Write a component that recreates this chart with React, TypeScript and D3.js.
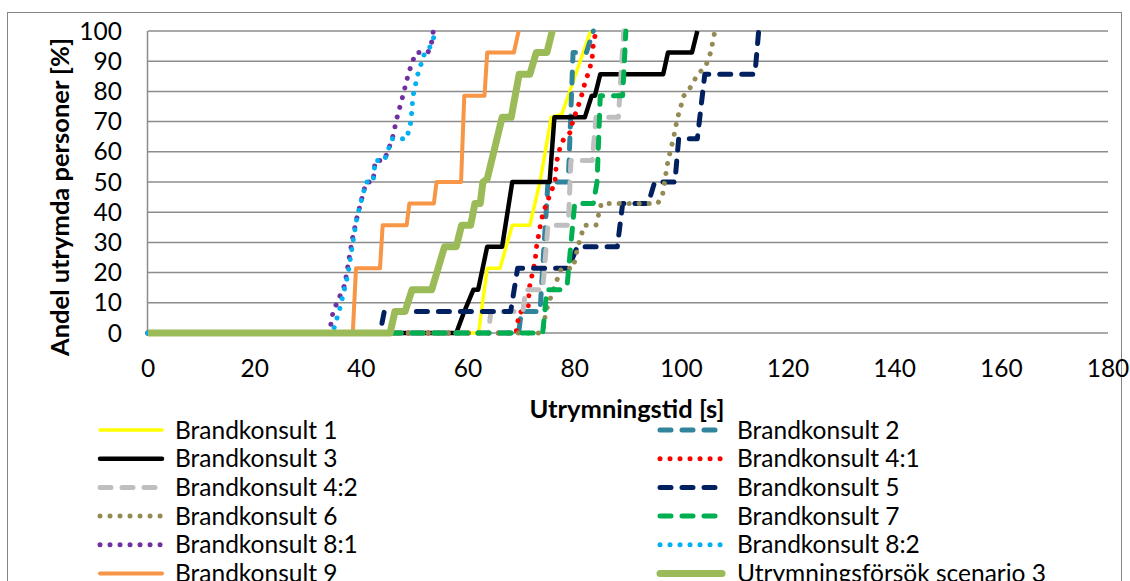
import React from "react";
import * as d3 from "d3";

// ---- data (time [s], share evacuated [%]) ----
const xTicks = [0, 20, 40, 60, 80, 100, 120, 140, 160, 180];
const yTicks = [0, 10, 20, 30, 40, 50, 60, 70, 80, 90, 100];

const bk1 = [[0,0],[62,0],[62.5,7.1],[63.6,21.4],[66,21.4],[68.3,35.7],[71.6,35.7],[73.5,50],[75.6,71.4],[77.6,72.5],[83,100]];
const bk2 = [[0,0],[69.5,0],[70,7.1],[73.5,7.1],[75,50],[78.8,50],[79.7,92.9],[82.2,92.9],[83.5,100]];
const bk3 = [[0,0],[57.8,0],[59.3,7.1],[61,14.3],[61.9,14.3],[63.6,28.6],[66.4,28.6],[68.3,50],[75.3,50],[76.2,71.4],[81.9,71.4],[83.2,78.6],[83.8,78.6],[84.8,85.7],[96.6,85.7],[97.5,92.9],[102,92.9],[103,100]];
const bk41 = [[0,0],[69,0],[69.6,6.6],[71.3,8.6],[71.5,15],[72.6,24],[72.8,28],[73.5,35],[74.1,40],[76.3,50],[76.6,56.6],[77.2,61],[78,64.5],[79.2,66.5],[79.7,70.5],[80.6,74.8],[81.2,78],[81.8,82],[82.9,88],[83.3,91.4],[83.5,95.7],[84,100]];
const bk42 = [[0,0],[63.8,0],[64.3,7.1],[70.3,7.1],[70.8,14.3],[74,14.3],[75,35.7],[78.8,35.7],[79.3,57.1],[83.3,57.1],[84,71.4],[88.2,71.4],[89.2,100]];
const bk5 = [[0,0],[43.5,0],[44.3,7.1],[68,7.1],[69.3,21.4],[78.8,21.4],[80.5,28.6],[88,28.6],[89,42.9],[93.8,42.9],[95,50],[98.8,50],[99.5,64.3],[103,64.3],[104.4,85.7],[113.8,85.7],[114.5,100]];
const bk6 = [[0,0],[74,0],[74.6,7.1],[76,14.3],[77.5,21.4],[79.7,21.4],[80.6,28.6],[81.8,35.7],[84,35.7],[85,42.9],[95.6,42.9],[96.5,46],[97.5,57.1],[98.5,64.3],[99.3,71.4],[100.5,78.6],[102,82],[103,85.7],[104.5,88],[105.5,92.9],[106.3,100]];
const bk7 = [[0,0],[74,0],[74.8,14.3],[77.5,14.3],[78.6,16],[80,42.9],[83.5,42.9],[84.2,50],[84.8,78.6],[89,78.6],[89.6,100]];
const bk81 = [[0,0],[34,0],[34.7,7],[36.9,16],[38.3,31],[39.2,38.4],[40.9,50],[42.2,50],[42.6,57.1],[44.3,57.1],[45.8,64.3],[46.7,71.4],[47.8,78.6],[48.8,85.7],[49.6,90],[50.3,92.9],[52.5,92.9],[53.2,96.4],[53.5,100]];
const bk82 = [[0,0],[34.6,0],[36,8.3],[37.5,19.5],[38.5,31],[39.2,38.4],[40.9,50],[42.2,50],[42.6,57.1],[44.3,57.1],[45.8,64.3],[48.5,64.3],[49.3,70],[49.7,78.6],[50.6,85.7],[51.9,92.9],[52.8,94.5],[53.6,98],[54,100]];
const bk9 = [[0,0],[38.4,0],[39,21.4],[43.5,21.4],[44,35.7],[48.5,35.7],[49,42.9],[53.6,42.9],[54.1,50],[58.7,50],[59.3,78.6],[63.1,78.6],[63.6,92.9],[68.6,92.9],[69.5,100]];
const scen3 = [[0,0],[45.4,0],[46.3,7.1],[48.2,7.1],[49.5,14.3],[53.2,14.3],[55.6,28.6],[57.8,28.6],[58.8,35.7],[60.5,35.7],[61.3,42.9],[62.3,42.9],[62.8,50],[63.6,51],[66.4,71.4],[68.1,71.4],[69.6,85.7],[71.6,85.7],[72.8,92.9],[74.8,92.9],[75.8,100]];

const seriesNames = [
  "Brandkonsult 1", "Brandkonsult 2", "Brandkonsult 3", "Brandkonsult 4:1",
  "Brandkonsult 4:2", "Brandkonsult 5", "Brandkonsult 6", "Brandkonsult 7",
  "Brandkonsult 8:1", "Brandkonsult 8:2", "Brandkonsult 9", "Utrymningsförsök scenario 3",
];
const seriesData = [bk1, bk2, bk3, bk41, bk42, bk5, bk6, bk7, bk81, bk82, bk9, scen3];

type Sty = { color: string; width: number; dash: string };
const DOT = "0.01 10";
const DASH = "11 11";
const styles: Sty[] = [
  { color: "#FFFF00", width: 3.5, dash: "" },
  { color: "#31849B", width: 5, dash: DASH },
  { color: "#000000", width: 4.5, dash: "" },
  { color: "#FF0000", width: 5, dash: DOT },
  { color: "#BFBFBF", width: 5, dash: DASH },
  { color: "#002060", width: 5, dash: DASH },
  { color: "#948A54", width: 5, dash: DOT },
  { color: "#00B050", width: 5, dash: DASH },
  { color: "#7030A0", width: 5, dash: DOT },
  { color: "#00B0F0", width: 5, dash: DOT },
  { color: "#F79646", width: 4, dash: "" },
  { color: "#9BBB59", width: 7, dash: "" },
];

const FONT = "Lato, 'Open Sans', sans-serif";
const FS = 24.5;
const FT = 25.5;

export default function App() {
  const x = d3.scaleLinear().domain([0, 180]).range([148, 1108]);
  const y = d3.scaleLinear().domain([0, 100]).range([333, 31]);
  const line = d3.line<number[]>().x((d) => x(d[0])).y((d) => y(d[1]));

  return (
    <svg width={1130} height={581} style={{ position: "absolute", left: 0, top: 0, background: "#fff" }}>
      <rect x={7.5} y={12.5} width={1114} height={620} fill="#fff" stroke="#868686" strokeWidth={1} />
      {yTicks.map((t) => (
        <line key={"g" + t} x1={x(0)} x2={x(180)} y1={y(t)} y2={y(t)} stroke="#8C8C8C" strokeWidth={1.5} />
      ))}
      <line x1={x(0) - 0.5} x2={x(0) - 0.5} y1={y(100)} y2={y(0)} stroke="#8C8C8C" strokeWidth={1.5} />
      {yTicks.map((t) => (
        <text key={"yl" + t} x={122} y={y(t) + 8.5} textAnchor="end" fontFamily={FONT} fontSize={FS} fill="#000">{t}</text>
      ))}
      {xTicks.map((t) => (
        <text key={"xl" + t} x={x(t)} y={377} textAnchor="middle" fontFamily={FONT} fontSize={FS} fill="#000">{t}</text>
      ))}
      <text transform="translate(69,197) rotate(-90)" textAnchor="middle" fontFamily={FONT} fontSize={FT} fontWeight="bold" fill="#000">Andel utrymda personer [%]</text>
      <text x={627} y={418} textAnchor="middle" fontFamily={FONT} fontSize={FT} fontWeight="bold" fill="#000">Utrymningstid [s]</text>

      {seriesData.map((d, i) => (
        <path key={"s" + i} d={line(d as number[][]) || ""} fill="none" stroke={styles[i].color}
          strokeWidth={styles[i].width} strokeDasharray={styles[i].dash || undefined}
          strokeLinecap={styles[i].dash ? "round" : "butt"} strokeLinejoin="round" />
      ))}

      {seriesNames.map((name, i) => {
        const col = i % 2;
        const row = Math.floor(i / 2);
        const lx = col === 0 ? 100 : 660;
        const tx = col === 0 ? 175 : 737;
        const cy = 430 + row * 28.7;
        const s = styles[i];
        return (
          <g key={"lg" + i}>
            <line x1={lx} x2={lx + 62} y1={cy} y2={cy} stroke={s.color} strokeWidth={s.width}
              strokeDasharray={s.dash || undefined} strokeLinecap="round" />
            <text x={tx} y={cy + 8.5} fontFamily={FONT} fontSize={FS} fill="#000">{name}</text>
          </g>
        );
      })}
    </svg>
  );
}
